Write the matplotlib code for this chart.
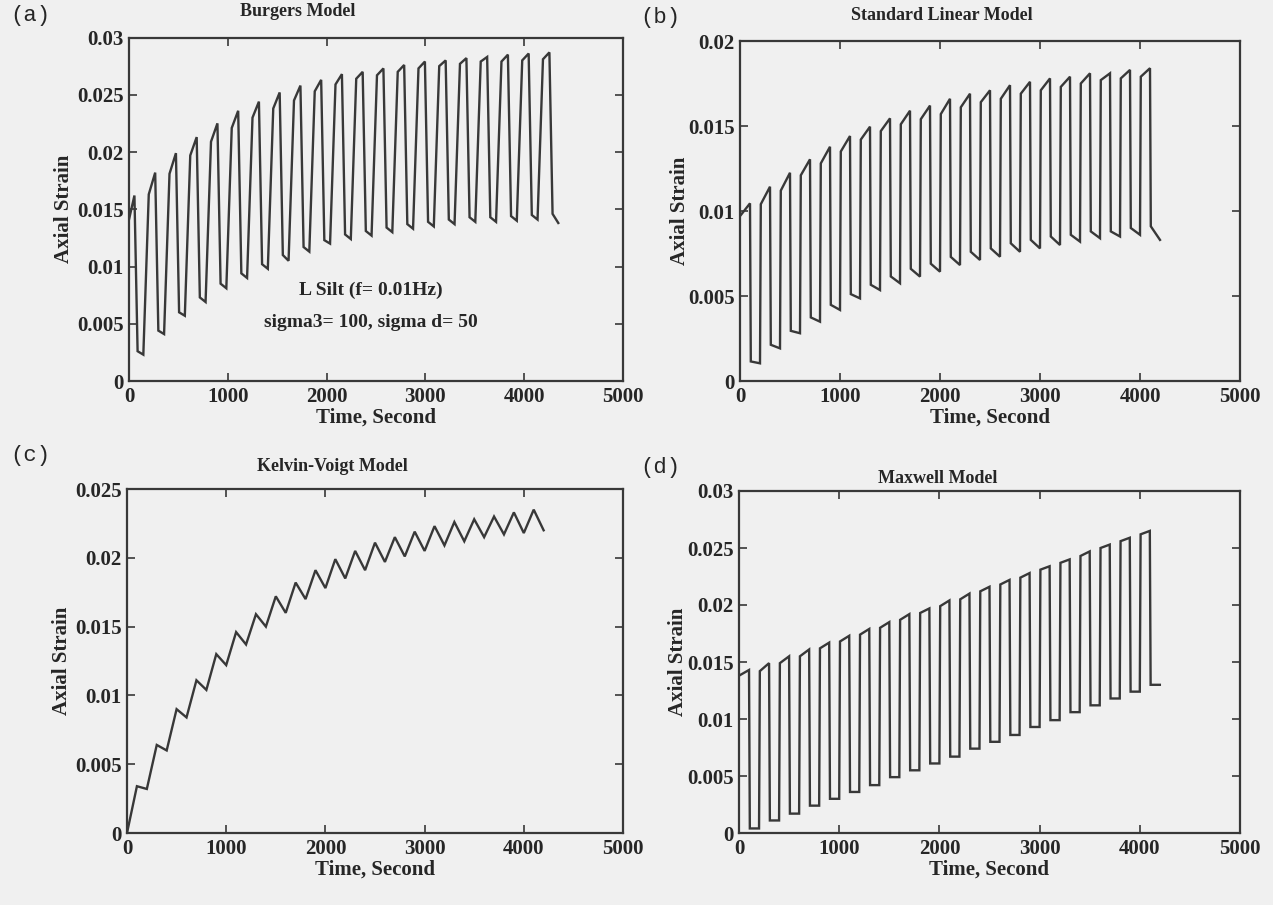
import numpy as np
import matplotlib.pyplot as plt
from matplotlib.ticker import FixedLocator, FixedFormatter

# ---------------- data (axial strain, per loading cycle) ----------------
# Burgers model: start of creep, end-of-load peak, bottom after unloading, end of rest
burgers_knee = [0.0141, 0.0163, 0.0181, 0.0197, 0.0209, 0.0221, 0.0230, 0.0238, 0.0245,
                0.0253, 0.0259, 0.0264, 0.0267, 0.0270, 0.0273, 0.0275, 0.0277, 0.0279,
                0.0279, 0.0280, 0.0281]
burgers_peak = [0.0162, 0.0182, 0.0199, 0.0213, 0.0225, 0.0236, 0.0244, 0.0252, 0.0258,
                0.0263, 0.0268, 0.0270, 0.0273, 0.0276, 0.0279, 0.0280, 0.0282, 0.0283,
                0.0285, 0.0286, 0.0287]
burgers_drop = [0.0026, 0.0044, 0.0060, 0.0073, 0.0085, 0.0094, 0.0102, 0.0110, 0.0117,
                0.0123, 0.0128, 0.0131, 0.0134, 0.0137, 0.0139, 0.0141, 0.0143, 0.0143,
                0.0144, 0.0145, 0.0146]
burgers_trough = [0.0023, 0.0041, 0.0057, 0.0069, 0.0081, 0.0090, 0.0098, 0.0105, 0.0113,
                  0.0120, 0.0124, 0.0127, 0.0130, 0.0133, 0.0135, 0.0137, 0.0139, 0.0139,
                  0.0140, 0.0141, 0.0138]

# Standard linear solid
sls_jump = [0.0097, 0.0104, 0.0112, 0.0121, 0.0128, 0.0135, 0.0142, 0.0147, 0.0151,
            0.0154, 0.0157, 0.0161, 0.0164, 0.0166, 0.0169, 0.0171, 0.0173, 0.0175,
            0.0177, 0.0178, 0.0179]
sls_peak = [0.01045, 0.01143, 0.01225, 0.01304, 0.01378, 0.01441, 0.01496, 0.01545, 0.0159,
            0.0162, 0.0166, 0.0169, 0.0171, 0.0174, 0.0176, 0.0178, 0.0179, 0.0181,
            0.0181, 0.0183, 0.0184]
sls_drop = [0.00115, 0.00213, 0.00295, 0.00374, 0.00448, 0.00511, 0.00566, 0.00615, 0.0066,
            0.0069, 0.0073, 0.0076, 0.0078, 0.0081, 0.0083, 0.0085, 0.0086, 0.0088,
            0.0088, 0.0090, 0.0091]
sls_trough = [0.00104, 0.00192, 0.00281, 0.00349, 0.00418, 0.00486, 0.00535, 0.00575, 0.00614,
              0.00643, 0.00682, 0.00712, 0.00731, 0.0076, 0.0078, 0.0080, 0.0082, 0.0084,
              0.0085, 0.0086, 0.0083]

# Kelvin-Voigt model
kv_peak = [0.0034, 0.0064, 0.0090, 0.0111, 0.0130, 0.0146, 0.0159, 0.0172, 0.0182, 0.0191,
           0.0199, 0.0205, 0.0211, 0.0215, 0.0219, 0.0223, 0.0226, 0.0228, 0.0230, 0.0233,
           0.0235]
kv_trough = [0.0032, 0.0060, 0.0084, 0.0104, 0.0122, 0.0137, 0.0150, 0.0160, 0.0170, 0.0178,
             0.0185, 0.0191, 0.0197, 0.0201, 0.0205, 0.0209, 0.0212, 0.0215, 0.0217, 0.0218,
             0.0220]

# Maxwell model
mx_jump = [0.0138, 0.0142, 0.0149, 0.0155, 0.0162, 0.0168, 0.0174, 0.0180, 0.0187, 0.0193,
           0.0199, 0.0205, 0.0212, 0.0218, 0.0224, 0.0231, 0.0237, 0.0243, 0.0250, 0.0256,
           0.0262]
mx_peak = [0.0143, 0.0149, 0.0155, 0.0161, 0.0167, 0.0173, 0.0179, 0.0185, 0.0192, 0.0197,
           0.0204, 0.0210, 0.0216, 0.0222, 0.0228, 0.0234, 0.0240, 0.0247, 0.0253, 0.0259,
           0.0265]
mx_trough = [0.0004, 0.0011, 0.0017, 0.0024, 0.0030, 0.0036, 0.0042, 0.0049, 0.0055, 0.0061,
             0.0067, 0.0074, 0.0080, 0.0086, 0.0093, 0.0099, 0.0106, 0.0112, 0.0118, 0.0124,
             0.0130]

# loading schedule (s)
burgers_first_start = -65
burgers_period = 210
cycle_period = 200
load_time = 100

x_ticks = [0, 1000, 2000, 3000, 4000, 5000]
x_ticklabels = ['0', '1000', '2000', '3000', '4000', '5000']
y_ticks_a = [0, 0.005, 0.01, 0.015, 0.02, 0.025, 0.03]
y_labels_a = ['0', '0.005', '0.01', '0.015', '0.02', '0.025', '0.03']
y_ticks_b = [0, 0.005, 0.01, 0.015, 0.02]
y_labels_b = ['0', '0.005', '0.01', '0.015', '0.02']
y_ticks_c = [0, 0.005, 0.01, 0.015, 0.02, 0.025]
y_labels_c = ['0', '0.005', '0.01', '0.015', '0.02', '0.025']
y_ticks_d = y_ticks_a
y_labels_d = y_labels_a

titles = ['Burgers Model', 'Standard Linear Model', 'Kelvin-Voigt Model', 'Maxwell Model']
panel_tags = ['(a)', '(b)', '(c)', '(d)']

# ---------------- build the strain histories ----------------
def burgers_path():
    t, y = [], []
    for k in range(len(burgers_peak)):
        c = burgers_first_start + k * burgers_period
        if k == 0:
            t.append(0.0)
        else:
            t.append(c + 55)
        y.append(burgers_knee[k])
        t += [c + 120, c + 152, c + burgers_period]
        y += [burgers_peak[k], burgers_drop[k], burgers_trough[k]]
    return t, y


def step_path(jump, peak, drop, trough):
    t, y = [], []
    for k in range(len(peak)):
        c = k * cycle_period
        t.append(c + (0 if k == 0 else 8))
        y.append(jump[k])
        t += [c + load_time, c + load_time + 8, c + cycle_period]
        y += [peak[k], drop[k], trough[k]]
    return t, y


def kv_path():
    t, y = [0.0], [0.0]
    for k in range(len(kv_peak)):
        c = k * cycle_period
        t += [c + load_time, c + cycle_period]
        y += [kv_peak[k], kv_trough[k]]
    return t, y


# ---------------- figure ----------------
W, H = 1273, 905
bg = '#f0f0f0'
ink = '#383838'
txt = '#262626'
serif = 'Liberation Serif'
mono = 'Liberation Mono'

fig = plt.figure(figsize=(W / 100, H / 100), dpi=100, facecolor=bg)


def px_axes(left, top, right, bottom):
    return fig.add_axes([left / W, 1 - bottom / H, (right - left) / W, (bottom - top) / H])


panels = [
    dict(box=(129, 37.5, 623, 381), data=burgers_path(), yt=y_ticks_a, yl=y_labels_a,
         ylim=0.03, title_x=298, title_y=12, tag_xy=(10, 15), ylab_x=64),
    dict(box=(740, 41, 1240, 381), data=step_path(sls_jump, sls_peak, sls_drop, sls_trough),
         yt=y_ticks_b, yl=y_labels_b, ylim=0.02, title_x=942, title_y=15, tag_xy=(640, 18),
         ylab_x=680),
    dict(box=(127, 489, 623, 833), data=kv_path(), yt=y_ticks_c, yl=y_labels_c, ylim=0.025,
         title_x=332, title_y=466, tag_xy=(10, 455), ylab_x=62),
    dict(box=(739, 491, 1240, 833), data=step_path(mx_jump, mx_peak, mx_trough, mx_trough),
         yt=y_ticks_d, yl=y_labels_d, ylim=0.03, title_x=938, title_y=478, tag_xy=(640, 467),
         ylab_x=678),
]

for i, p in enumerate(panels):
    l, tp, r, b = p['box']
    ax = px_axes(l, tp, r, b)
    ax.set_facecolor(bg)
    t, y = p['data']
    ax.plot(t, y, color=ink, lw=1.7, solid_joinstyle='miter')
    ax.set_xlim(0, 5000)
    ax.set_ylim(0, p['ylim'])
    ax.xaxis.set_major_locator(FixedLocator(x_ticks))
    ax.xaxis.set_major_formatter(FixedFormatter(x_ticklabels))
    ax.yaxis.set_major_locator(FixedLocator(p['yt']))
    ax.yaxis.set_major_formatter(FixedFormatter(p['yl']))
    ax.tick_params(direction='in', length=6, width=1.2, color=ink, top=True, right=True,
                   labelsize=15, labelcolor=txt, pad=4)
    for lab in ax.get_xticklabels() + ax.get_yticklabels():
        lab.set_fontfamily(serif)
        lab.set_fontweight('bold')
    for s in ax.spines.values():
        s.set_color(ink)
        s.set_linewidth(1.6)

    # title, axis labels and panel tag placed in pixel coordinates
    fig.text(p['title_x'] / W, 1 - p['title_y'] / H, titles[i], ha='center', va='center',
             fontsize=13, fontweight='bold', family=serif, color=txt)
    fig.text((l + r) / 2 / W, 1 - (b + 37) / H, 'Time, Second', ha='center', va='center',
             fontsize=15, fontweight='bold', family=serif, color=txt)
    fig.text(p['ylab_x'] / W, 1 - (tp + b) / 2 / H, 'Axial Strain', ha='center', va='center',
             rotation=90, fontsize=15, fontweight='bold', family=serif, color=txt)
    fig.text(p['tag_xy'][0] / W, 1 - p['tag_xy'][1] / H, panel_tags[i], ha='left',
             va='center', fontsize=16, family=mono, color=txt)

    if i == 0:
        ax.text(2450, 0.0079, 'L Silt (f= 0.01Hz)', ha='center', va='center', fontsize=14,
                fontweight='bold', family=serif, color=txt)
        ax.text(2450, 0.0051, 'sigma3= 100, sigma d= 50', ha='center', va='center',
                fontsize=14, fontweight='bold', family=serif, color=txt)

fig.savefig('out.png', dpi=100, facecolor=bg)
